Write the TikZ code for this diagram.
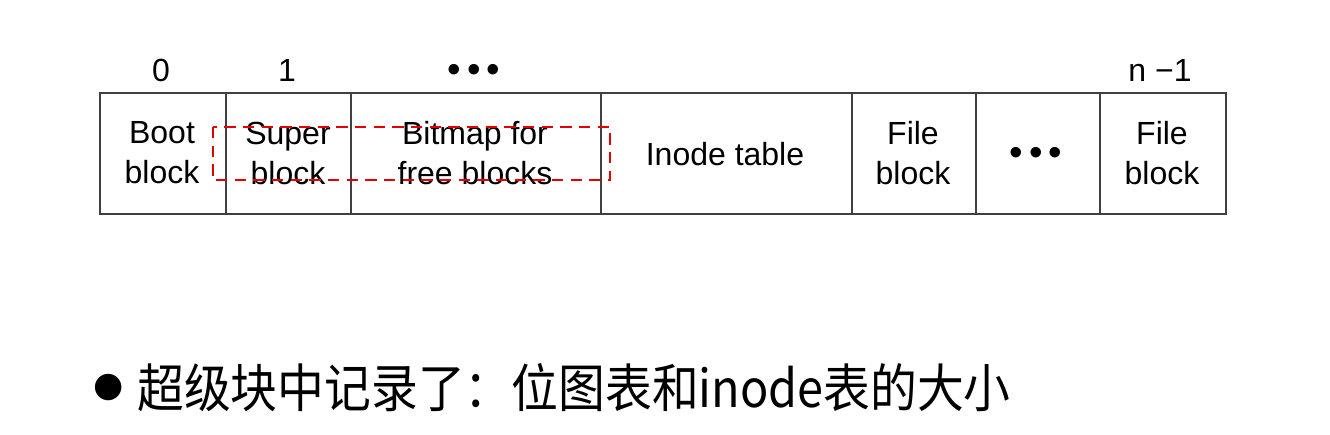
\documentclass[tikz,border=0pt]{standalone}
\usepackage{fontspec}
\setmainfont{Liberation Sans}
\newfontfamily\cjk[FakeStretch=0.9]{Noto Sans CJK SC}
\newfontfamily\djv{DejaVu Sans}
\begin{document}
\begin{tikzpicture}[x=0.75pt,y=-0.75pt,
  cell/.style={draw=black!75,line width=1.5pt,inner sep=0pt,outer sep=0pt},
  lbl/.style={font=\fontsize{24}{30}\selectfont,align=center,inner sep=0pt},
  dotlbl/.style={font=\fontsize{29}{30}\selectfont,inner sep=0pt},
  hl/.style={draw=red!90!black,dashed,dash pattern=on 8.5pt off 5.5pt,line width=1.6pt}]
\useasboundingbox (0,0) rectangle (1330,435);
% cells
\draw[cell] (100,93) rectangle (1226,214);
\foreach \x in {226,351,601,852,976,1100}
  \draw[cell] (\x,93) -- (\x,214);
\node[lbl] (boot) at (162,153) {Boot\\block};
\node[lbl] (super) at (288,153) {Super\\block};
\node[lbl] (bitmap) at (475,153) {Bitmap for\\free blocks};
\node[lbl] (inode) at (725,154) {Inode table};
\node[lbl] (file1) at (913,153) {File\\block};
\node[dotlbl] (dots) at (1036,156) {•\hspace{4.5pt}•\hspace{4.5pt}•};
\node[lbl] (file2) at (1162,153) {File\\block};
% indices
\node[lbl] (i0) at (161,70) {0};
\node[lbl] (i1) at (287,70) {1};
\node[dotlbl] (idots) at (474,73) {•\hspace{4.5pt}•\hspace{4.5pt}•};
\node[lbl] (in) at (1160,70) {n −1};
% highlight
\draw[hl] (213,127) rectangle (610,180);
% bottom text
\node[inner sep=0pt,font=\djv\fontsize{26}{30}\selectfont] (bul) at (109,388) {●};
\node[anchor=west,inner sep=0pt,font=\cjk\fontsize{39}{44}\selectfont] (txt) at (137,388) {超级块中记录了：位图表和inode表的大小};
\end{tikzpicture}
\end{document}
